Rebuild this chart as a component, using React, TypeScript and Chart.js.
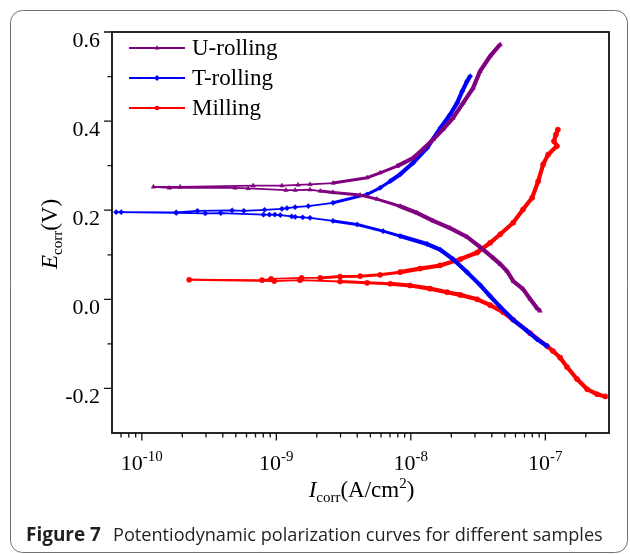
import React, { useEffect, useRef } from 'react';
import { Chart, registerables } from 'chart.js';

Chart.register(...registerables);

// ---------------- data (scan order: cathodic end -> Ecorr tip -> anodic end) ----------------
const seriesNames = ['U-rolling', 'T-rolling', 'Milling'];
const seriesColors = ['#800080', '#0000ff', '#ff0000'];

const uRollingCurrent = [9.14e-8, 8.69e-8, 7.71e-8, 6.84e-8, 5.77e-8, 5.2e-8, 4.62e-8, 4.09e-8, 3.28e-8, 2.62e-8, 1.96e-8, 1.47e-8, 1.11e-8, 8.32e-9, 5.61e-9, 4.2e-9, 2.64e-9, 2.12e-9, 1.78e-9, 1.38e-9, 1.18e-9, 6.17e-10, 4.94e-10, 1.6e-10, 1.22e-10, 1.93e-10, 6.73e-10, 1.1e-9, 1.45e-9, 1.78e-9, 2.64e-9, 4.73e-9, 5.91e-9, 7.91e-9, 1.04e-8, 1.23e-8, 1.47e-8, 1.74e-8, 2.06e-8, 2.45e-8, 2.9e-8, 3.27e-8, 3.89e-8, 4.62e-8];
const uRollingPotential = [-0.026, -0.02, 0.001, 0.023, 0.041, 0.063, 0.079, 0.093, 0.117, 0.14, 0.16, 0.176, 0.194, 0.209, 0.225, 0.234, 0.24, 0.243, 0.246, 0.245, 0.245, 0.249, 0.25, 0.25, 0.2525, 0.2525, 0.255, 0.255, 0.257, 0.258, 0.261, 0.273, 0.284, 0.299, 0.317, 0.337, 0.359, 0.382, 0.407, 0.441, 0.474, 0.512, 0.546, 0.572];

const tRollingCurrent = [1.03e-7, 8.69e-8, 7.33e-8, 5.77e-8, 4.62e-8, 3.89e-8, 3.28e-8, 2.62e-8, 2.06e-8, 1.66e-8, 1.32e-8, 8.32e-9, 6.22e-9, 3.99e-9, 2.64e-9, 1.78e-9, 1.57e-9, 1.38e-9, 1.3e-9, 1.07e-9, 9.75e-10, 8.89e-10, 8.02e-10, 3.86e-10, 2.96e-10, 1.8e-10, 6.44e-11, 7.02e-11, 1.8e-10, 2.59e-10, 4.69e-10, 5.73e-10, 8.17e-10, 1.1e-9, 1.2e-9, 1.38e-9, 1.73e-9, 2.64e-9, 4.73e-9, 5.91e-9, 7.02e-9, 8.32e-9, 1.04e-8, 1.32e-8, 1.66e-8, 1.96e-8, 2.21e-8, 2.41e-8, 2.62e-8, 2.76e-8];
const tRollingPotential = [-0.105, -0.09, -0.071, -0.046, -0.017, 0.007, 0.032, 0.061, 0.09, 0.111, 0.124, 0.142, 0.153, 0.168, 0.176, 0.183, 0.184, 0.185, 0.186, 0.189, 0.19, 0.19, 0.19, 0.1935, 0.193, 0.194, 0.1957, 0.1957, 0.195, 0.1987, 0.1996, 0.1987, 0.2009, 0.2031, 0.2047, 0.2069, 0.2092, 0.2166, 0.2354, 0.2502, 0.2652, 0.2803, 0.3063, 0.3399, 0.3848, 0.4148, 0.4408, 0.467, 0.4895, 0.5007];

const millingCurrent = [2.79e-7, 2.43e-7, 2.05e-7, 1.72e-7, 1.45e-7, 1.29e-7, 1.14e-7, 1.03e-7, 7.71e-8, 5.77e-8, 4.86e-8, 3.89e-8, 3.11e-8, 2.33e-8, 1.86e-8, 1.39e-8, 9.88e-9, 7.02e-9, 4.73e-9, 2.98e-9, 1.5e-9, 9.64e-10, 2.25e-10, 7.83e-10, 9.14e-10, 1.54e-9, 2.12e-9, 2.98e-9, 4.2e-9, 5.91e-9, 8.32e-9, 1.17e-8, 1.65e-8, 2.33e-8, 3.11e-8, 3.89e-8, 4.62e-8, 5.77e-8, 6.84e-8, 7.98e-8, 8.85e-8, 9.64e-8, 1.05e-7, 1.22e-7, 1.16e-7, 1.2e-7, 1.24e-7];
const millingPotential = [-0.218, -0.213, -0.202, -0.179, -0.152, -0.131, -0.116, -0.105, -0.076, -0.046, -0.029, -0.013, 0.0, 0.01, 0.016, 0.024, 0.031, 0.035, 0.037, 0.04, 0.043, 0.041, 0.044, 0.043, 0.046, 0.048, 0.048, 0.051, 0.052, 0.055, 0.061, 0.069, 0.076, 0.09, 0.105, 0.127, 0.146, 0.172, 0.202, 0.228, 0.265, 0.303, 0.325, 0.344, 0.355, 0.37, 0.381];

// axes
const X_MIN = 6.0e-11;
const X_MAX = 2.975e-7;
const Y_MIN = -0.3;
const Y_MAX = 0.6;
const xMajorTicks = [1e-10, 1e-9, 1e-8, 1e-7];
const xMajorExponents = ['-10', '-9', '-8', '-7'];
const xMinorTicks = [7e-11, 8e-11, 9e-11, 2e-10, 3e-10, 4e-10, 5e-10, 6e-10, 7e-10, 8e-10, 9e-10, 2e-9, 3e-9, 4e-9, 5e-9, 6e-9, 7e-9, 8e-9, 9e-9, 2e-8, 3e-8, 4e-8, 5e-8, 6e-8, 7e-8, 8e-8, 9e-8, 2e-7];
const yMajorTicks = [-0.2, 0.0, 0.2, 0.4, 0.6];
const yMajorLabels = ['-0.2', '0.0', '0.2', '0.4', '0.6'];
const yMinorTicks = [-0.1, 0.1, 0.3, 0.5];
const captionBold = 'Figure 7';
const captionText = 'Potentiodynamic polarization curves for different samples';

// ---------------- drawing helpers ----------------
const SERIF = '"Liberation Serif", "Times New Roman", serif';
const SANS = '"Open Sans", "Noto Sans", sans-serif';
type Part = { t: string; size: number; italic?: boolean; dy?: number };

function partsWidth(ctx: CanvasRenderingContext2D, parts: Part[]) {
  let w = 0;
  for (const p of parts) {
    ctx.font = `${p.italic ? 'italic ' : ''}${p.size}px ${SERIF}`;
    w += ctx.measureText(p.t).width;
  }
  return w;
}
function drawParts(ctx: CanvasRenderingContext2D, parts: Part[], x: number, y: number) {
  let cx = x;
  ctx.textAlign = 'left';
  ctx.textBaseline = 'alphabetic';
  for (const p of parts) {
    ctx.font = `${p.italic ? 'italic ' : ''}${p.size}px ${SERIF}`;
    ctx.fillText(p.t, cx, y + (p.dy || 0));
    cx += ctx.measureText(p.t).width;
  }
}
function drawMarker(ctx: CanvasRenderingContext2D, style: string, x: number, y: number, r: number, color: string) {
  ctx.fillStyle = color;
  ctx.beginPath();
  if (style === 'triangle') {
    ctx.moveTo(x, y - r * 1.2);
    ctx.lineTo(x + r * 1.1, y + r * 0.7);
    ctx.lineTo(x - r * 1.1, y + r * 0.7);
    ctx.closePath();
  } else if (style === 'rectRot') {
    ctx.moveTo(x, y - r * 1.3);
    ctx.lineTo(x + r * 1.3, y);
    ctx.lineTo(x, y + r * 1.3);
    ctx.lineTo(x - r * 1.3, y);
    ctx.closePath();
  } else {
    ctx.arc(x, y, r, 0, Math.PI * 2);
  }
  ctx.fill();
}

const pointStyles = ['triangle', 'rectRot', 'circle'];

const decorPlugin = {
  id: 'decor',
  afterDraw(chart: any) {
    const ctx: CanvasRenderingContext2D = chart.ctx;
    const a = chart.chartArea;
    const xs = chart.scales.x;
    const ys = chart.scales.y;
    ctx.save();

    // figure frame
    ctx.strokeStyle = '#707070';
    ctx.lineWidth = 1;
    ctx.beginPath();
    (ctx as any).roundRect(10.5, 10.5, 617, 542, 12);
    ctx.stroke();

    // plot box
    ctx.strokeStyle = '#111';
    ctx.lineWidth = 1.8;
    ctx.strokeRect(a.left, a.top, a.right - a.left, a.bottom - a.top);

    // y ticks
    ctx.lineWidth = 1.3;
    ctx.beginPath();
    yMajorTicks.forEach((v) => {
      const py = ys.getPixelForValue(v);
      ctx.moveTo(a.left - 8, py);
      ctx.lineTo(a.left, py);
    });
    yMinorTicks.forEach((v) => {
      const py = ys.getPixelForValue(v);
      ctx.moveTo(a.left - 4.5, py);
      ctx.lineTo(a.left, py);
    });
    // x ticks
    xMajorTicks.forEach((v) => {
      const px = xs.getPixelForValue(v);
      ctx.moveTo(px, a.bottom);
      ctx.lineTo(px, a.bottom + 7.5);
    });
    xMinorTicks.forEach((v) => {
      const px = xs.getPixelForValue(v);
      ctx.moveTo(px, a.bottom);
      ctx.lineTo(px, a.bottom + 4.5);
    });
    ctx.stroke();

    ctx.fillStyle = '#000';
    // y labels
    ctx.font = `22px ${SERIF}`;
    ctx.textAlign = 'right';
    ctx.textBaseline = 'alphabetic';
    yMajorTicks.forEach((v, i) => {
      const py = ys.getPixelForValue(v);
      ctx.fillText(yMajorLabels[i], a.left - 12, py + 15);
    });
    // x labels with superscript
    xMajorTicks.forEach((v, i) => {
      const px = xs.getPixelForValue(v);
      const parts: Part[] = [
        { t: '10', size: 22 },
        { t: xMajorExponents[i], size: 15, dy: -9 },
      ];
      const w = partsWidth(ctx, parts);
      drawParts(ctx, parts, px - w / 2, a.bottom + 37);
    });

    // x title
    const xt: Part[] = [
      { t: 'I', size: 23, italic: true },
      { t: 'corr', size: 15, dy: 5 },
      { t: '(A/cm', size: 23 },
      { t: '2', size: 15, dy: -9 },
      { t: ')', size: 23 },
    ];
    const xw = partsWidth(ctx, xt);
    drawParts(ctx, xt, (a.left + a.right) / 2 - xw / 2 + 1, 497);

    // y title (rotated)
    const yt: Part[] = [
      { t: 'E', size: 23, italic: true },
      { t: 'corr', size: 15, dy: 5 },
      { t: '(V)', size: 23 },
    ];
    const yw = partsWidth(ctx, yt);
    ctx.save();
    ctx.translate(57, 234 + yw / 2);
    ctx.rotate(-Math.PI / 2);
    drawParts(ctx, yt, 0, 0);
    ctx.restore();

    // legend
    seriesNames.forEach((name, i) => {
      const ly = 48 + i * 30;
      ctx.strokeStyle = seriesColors[i];
      ctx.lineWidth = 2;
      ctx.beginPath();
      ctx.moveTo(129, ly);
      ctx.lineTo(185, ly);
      ctx.stroke();
      drawMarker(ctx, pointStyles[i], 157, ly, 2.3, seriesColors[i]);
      ctx.fillStyle = '#000';
      ctx.font = `23px ${SERIF}`;
      ctx.textAlign = 'left';
      ctx.textBaseline = 'middle';
      ctx.fillText(name, 192, ly + 1);
    });

    // caption (font size fitted to the caption width)
    ctx.textAlign = 'left';
    ctx.textBaseline = 'alphabetic';
    ctx.fillStyle = '#231f20';
    ctx.font = `bold 20px ${SANS}`;
    const bw = ctx.measureText(captionBold).width;
    const bSize = (20 * 75) / bw;
    ctx.font = `bold ${bSize.toFixed(2)}px ${SANS}`;
    ctx.fillText(captionBold, 26, 541);
    ctx.font = `20px ${SANS}`;
    const cw = ctx.measureText(captionText).width;
    const cSize = (20 * 490) / cw;
    ctx.font = `${cSize.toFixed(2)}px ${SANS}`;
    ctx.fillText(captionText, 113, 541);

    ctx.restore();
  },
};

function makeData(xs: number[], ys: number[]) {
  return xs.map((x, i) => ({ x, y: ys[i] }));
}

export default function App() {
  const canvasRef = useRef<HTMLCanvasElement | null>(null);

  useEffect(() => {
    if (!canvasRef.current) return;
    const segWidth = (c: any) => {
      const x = Math.min(c.p0.x, c.p1.x);
      return x > 390 ? 4.2 : x > 320 ? 3.0 : 1.8;
    };
    const currents = [uRollingCurrent, tRollingCurrent, millingCurrent];
    const potentials = [uRollingPotential, tRollingPotential, millingPotential];
    const chart = new Chart(canvasRef.current, {
      type: 'scatter',
      data: {
        datasets: seriesNames.map((name, i) => ({
          label: name,
          data: makeData(currents[i], potentials[i]),
          showLine: true,
          borderColor: seriesColors[i],
          backgroundColor: seriesColors[i],
          borderWidth: 2,
          pointStyle: pointStyles[i] as any,
          pointRadius: 2.6,
          pointBorderWidth: 0.5,
          pointBorderColor: seriesColors[i],
          pointBackgroundColor: seriesColors[i],
          tension: 0,
          segment: { borderWidth: segWidth },
        })),
      },
      options: {
        responsive: false,
        animation: false,
        devicePixelRatio: 1,
        events: [],
        layout: { padding: { left: 0, right: 21, top: 32, bottom: 0 } },
        plugins: {
          legend: { display: false },
          tooltip: { enabled: false },
          title: { display: false },
        },
        scales: {
          x: {
            type: 'logarithmic',
            min: X_MIN,
            max: X_MAX,
            bounds: 'data',
            ticks: { display: false },
            grid: { display: false },
            border: { display: false },
            afterFit: (s: any) => {
              s.height = 121;
            },
          },
          y: {
            type: 'linear',
            min: Y_MIN,
            max: Y_MAX,
            bounds: 'data',
            ticks: { display: false },
            grid: { display: false },
            border: { display: false },
            afterFit: (s: any) => {
              s.width = 112;
            },
          },
        },
      } as any,
      plugins: [decorPlugin],
    });
    return () => chart.destroy();
  }, []);

  return (
    <div style={{ position: 'absolute', left: 0, top: 0, width: 630, height: 554, background: '#fff' }}>
      <canvas ref={canvasRef} width={630} height={554} style={{ display: 'block' }} />
    </div>
  );
}
